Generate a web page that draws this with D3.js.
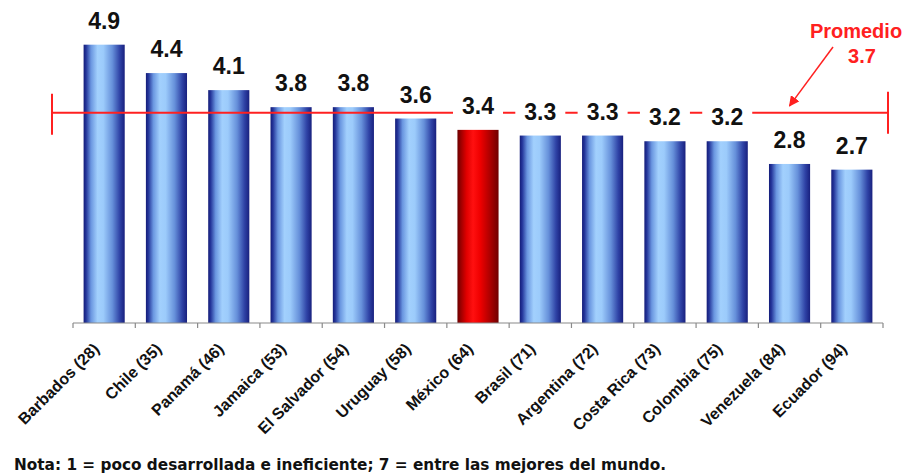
<!DOCTYPE html>
<html>
<head>
<meta charset="utf-8">
<script src="https://cdn.jsdelivr.net/npm/d3@7"></script>
<style>
  html, body { margin: 0; padding: 0; background: #fff; }
  svg { display: block; font-family: "Liberation Sans", Arial, sans-serif; }
</style>
</head>
<body>
<svg id="chart" width="905" height="476"></svg>
<script>
// Country (ranking) labels
const categories = [
  "Barbados (28)", "Chile (35)", "Panamá (46)", "Jamaica (53)", "El Salvador (54)",
  "Uruguay (58)", "México (64)", "Brasil (71)", "Argentina (72)", "Costa Rica (73)",
  "Colombia (75)", "Venezuela (84)", "Ecuador (94)"
];
// Score (1–7 scale)
const values = [4.9, 4.4, 4.1, 3.8, 3.8, 3.6, 3.4, 3.3, 3.3, 3.2, 3.2, 2.8, 2.7];
// Highlighted country
const highlight = ["México (64)"];
// Regional average
const average = [3.7];
const averageLabel = ["Promedio", "3.7"];
const note = "Nota: 1 = poco desarrollada e ineficiente; 7 = entre las mejores del mundo.";

const svg = d3.select("#chart");
const data = categories.map((c, i) => ({ name: c, value: values[i] }));

const x = d3.scaleBand()
  .domain(categories)
  .range([73, 883])
  .paddingInner(0.34)
  .paddingOuter(0.17);

const y = d3.scaleLinear().domain([0, 5]).range([323, 39]);

// Cylinder-like shading
const defs = svg.append("defs");
function grad(id, stops) {
  const g = defs.append("linearGradient").attr("id", id)
    .attr("x1", "0%").attr("x2", "100%").attr("y1", "0%").attr("y2", "0%");
  stops.forEach(([o, c]) => g.append("stop").attr("offset", o).attr("stop-color", c));
}
grad("blueBar", [
  ["0%", "#141c78"], ["6%", "#24359a"], ["18%", "#6a96e0"], ["34%", "#a2d0fd"],
  ["48%", "#9ccbfb"], ["70%", "#6690da"], ["88%", "#2f43a6"], ["100%", "#18207e"]
]);
grad("redBar", [
  ["0%", "#6a0000"], ["8%", "#9a0000"], ["22%", "#e00000"], ["38%", "#ff1010"],
  ["55%", "#f00000"], ["78%", "#b00000"], ["100%", "#700000"]
]);
defs.append("marker").attr("id", "arrow")
  .attr("viewBox", "0 0 10 10").attr("refX", 9).attr("refY", 5)
  .attr("markerWidth", 7).attr("markerHeight", 7).attr("orient", "auto")
  .append("path").attr("d", "M0,0 L10,5 L0,10 Z").attr("fill", "#ff2020");

// Bars
svg.append("g").selectAll("rect").data(data).join("rect")
  .attr("x", d => x(d.name))
  .attr("y", d => y(d.value))
  .attr("width", x.bandwidth())
  .attr("height", d => y(0) - y(d.value))
  .attr("fill", d => highlight.includes(d.name) ? "url(#redBar)" : "url(#blueBar)");

// Category axis: baseline with ticks at band boundaries
const gap = (x.step() - x.bandwidth()) / 2;
const axis = svg.append("g").attr("stroke", "#8a8a8a").attr("stroke-width", 1.2);
axis.append("line")
  .attr("x1", x.range()[0]).attr("x2", x.range()[1])
  .attr("y1", y(0)).attr("y2", y(0));
const tickXs = categories.map(c => x(c) - gap).concat([x.range()[1]]);
axis.selectAll("line.tick").data(tickXs).join("line").attr("class", "tick")
  .attr("x1", d => d).attr("x2", d => d)
  .attr("y1", y(0)).attr("y2", y(0) + 5);

// Category labels, rotated
svg.append("g").selectAll("text").data(data).join("text")
  .attr("transform", d => `translate(${x(d.name) + x.bandwidth() / 2 - 4},${y(0) + 27}) rotate(-45)`)
  .attr("text-anchor", "end")
  .attr("font-size", 16)
  .attr("font-weight", "bold")
  .attr("fill", "#111")
  .text(d => d.name);

// Average line with end caps
const avgY = y(average[0]);
const lineX0 = 52, lineX1 = 888;
const avg = svg.append("g").attr("stroke", "#ff2020").attr("stroke-width", 2);
avg.append("line").attr("x1", lineX0).attr("x2", lineX1).attr("y1", avgY).attr("y2", avgY);
avg.append("line").attr("x1", lineX0).attr("x2", lineX0).attr("y1", avgY - 19).attr("y2", avgY + 22);
avg.append("line").attr("x1", lineX1).attr("x2", lineX1).attr("y1", avgY - 21).attr("y2", avgY + 21);

// Value labels on white boxes
const labels = svg.append("g").selectAll("g").data(data).join("g")
  .attr("transform", d => `translate(${x(d.name) + x.bandwidth() / 2},${y(d.value) - 16})`);
labels.append("rect")
  .attr("x", -25).attr("y", -19).attr("width", 50).attr("height", 23)
  .attr("fill", "#fff");
labels.append("text")
  .attr("text-anchor", "middle")
  .attr("font-size", 23)
  .attr("font-weight", "bold")
  .attr("fill", "#111")
  .text(d => d3.format(".1f")(d.value));

// Average annotation
const annX = 856;
svg.append("text").attr("x", annX).attr("y", 38)
  .attr("text-anchor", "middle").attr("font-size", 20).attr("font-weight", "bold")
  .attr("fill", "#ff2020").text(averageLabel[0]);
svg.append("text").attr("x", annX + 6).attr("y", 63)
  .attr("text-anchor", "middle").attr("font-size", 20).attr("font-weight", "bold")
  .attr("fill", "#ff2020").text(averageLabel[1]);
svg.append("line")
  .attr("x1", 833).attr("y1", 47)
  .attr("x2", x("Venezuela (84)") + x.bandwidth() / 2).attr("y2", avgY - 7)
  .attr("stroke", "#ff2020").attr("stroke-width", 1.5)
  .attr("marker-end", "url(#arrow)");

// Footnote
svg.append("text").attr("x", 14).attr("y", 470)
  .style("font-family", "'DejaVu Sans', Verdana, sans-serif")
  .attr("font-size", 15.3).attr("font-weight", "bold").attr("fill", "#111")
  .text(note);
</script>
</body>
</html>
